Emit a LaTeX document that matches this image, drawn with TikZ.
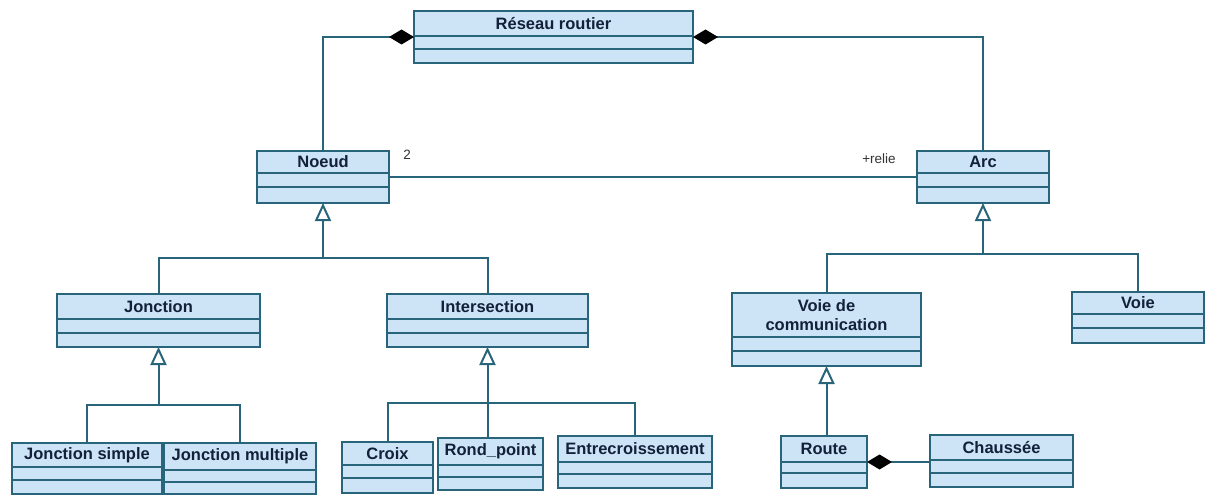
\documentclass[tikz,border=0pt]{standalone}
\usepackage{fontspec}
\setmainfont{Liberation Sans}
\usetikzlibrary{arrows.meta,calc}
\definecolor{boxfill}{RGB}{204,228,245}
\definecolor{edge}{RGB}{40,100,122}
\definecolor{txt}{RGB}{18,32,58}
\tikzset{
 cls/.style={draw=edge, fill=boxfill, line width=2pt, inner sep=0pt, outer sep=0pt},
 clsline/.style={draw=edge, line width=2pt},
 clstext/.style={text=txt, font=\fontsize{16.5}{19}\selectfont\bfseries, align=center, inner sep=0pt},
 conn/.style={draw=edge, line width=2pt},
 comp/.style={conn, -{Diamond[length=25pt,width=15pt,color=black]}},
 inh/.style={conn, -{Triangle[open,length=18pt,width=16pt,fill=white]}},
 lbl/.style={text=black!80, font=\fontsize{13.5}{15}\selectfont, inner sep=0pt}
}
\newcommand\umlcls[8]{%
  \node[cls, anchor=north west, minimum width={(#4-#2)*1pt}, minimum height={(#5-#3)*1pt}] (#1) at (#2,#3) {};
  \draw[clsline] (#2,#6) -- (#4,#6);
  \draw[clsline] (#2,#7) -- (#4,#7);
  \node[clstext] (#1-t) at ({(#2+#4)/2},{(#3+#6)/2}) {#8};
}
\begin{document}
\begin{tikzpicture}[x=1pt,y=-1pt]
\fill[white] (0,0) rectangle (1206,495);
\useasboundingbox (0,0) rectangle (1206,495);

% classes
\umlcls{R}{414}{11}{693}{63}{36}{49}{Réseau routier}
\umlcls{N}{257}{151}{389}{203}{173}{187}{Noeud}
\umlcls{A}{917}{151}{1049}{203}{173}{187}{Arc}
\umlcls{J}{57}{294}{260}{347}{319}{333}{Jonction}
\umlcls{I}{387}{294}{588}{347}{319}{333}{Intersection}
\umlcls{V}{732}{293}{921}{366}{337}{351}{Voie de\\communication}
\umlcls{Vo}{1072}{292}{1204}{343}{314}{328}{Voie}
\umlcls{JS}{12}{443}{162}{494}{467}{480}{Jonction simple}
\umlcls{JM}{164}{443}{316}{494}{470}{482}{Jonction multiple}
\umlcls{C}{342}{442}{433}{493}{465}{478}{Croix}
\umlcls{RP}{438}{438}{543}{490}{465}{477}{Rond\_point}
\umlcls{E}{558}{436}{712}{488}{462}{474}{Entrecroissement}
\umlcls{Ro}{781}{436}{867}{488}{462}{473}{Route}
\umlcls{Ch}{930}{435}{1073}{487}{460}{473}{Chaussée}

% compositions
\draw[comp] (N.north) |- (R.west);
\draw[comp] (A.north) |- (R.east);
\draw[comp] (Ch.west |- Ro.east) -- (Ro.east);

% association
\draw[conn] (N.east) -- (A.west);
\node[lbl] (l2) at (407,155) {2};
\node[lbl] (lr) at (879,159) {+relie};

% inheritance Noeud
\coordinate (nb) at (N.south |- 0,258);
\draw[conn] (J.north) |- (nb) -| (I.north);
\draw[inh] (nb) -- (N.south);

% inheritance Jonction
\coordinate (jb) at (J.south |- 0,405);
\draw[conn] (JS.north) |- (jb) -| (JM.north);
\draw[inh] (jb) -- (J.south);

% inheritance Intersection
\coordinate (ib) at (I.south |- 0,403);
\draw[conn] (C.north) |- (ib) -| (E.north);
\draw[conn] (ib) -- (ib |- RP.north);
\draw[inh] (ib) -- (I.south);

% inheritance Arc
\coordinate (ab) at (A.south |- 0,254);
\draw[conn] (V.north) |- (ab) -| (Vo.north);
\draw[inh] (ab) -- (A.south);

% inheritance Voie de communication
\draw[inh] (V.south |- Ro.north) -- (V.south);
\end{tikzpicture}
\end{document}
